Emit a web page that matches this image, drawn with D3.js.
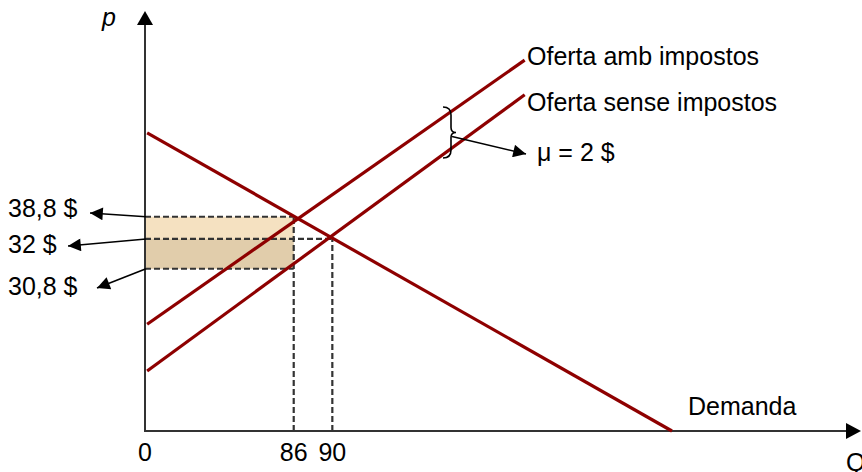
<!DOCTYPE html>
<html>
<head>
<meta charset="utf-8">
<script src="https://cdn.jsdelivr.net/npm/d3@7"></script>
<style>
  body { margin: 0; background: #fff; }
  text { font-family: "Liberation Sans", Arial, sans-serif; fill: #000; font-size: 25px; }
</style>
</head>
<body>
<div id="chart"></div>
<script>
// schematic diagram, values in abstract diagram units (q: 0-100, p: 0-60)
var demand      = [[0.3, 43.0], [73.7, 0]];
var supplyTax   = [[0.3, 15.4], [53.1, 53.5]];
var supplyNoTax = [[0.3, 8.65], [53.1, 48.5]];

var lineNames = ["Demanda", "Oferta amb impostos", "Oferta sense impostos"];

// equilibrium points (q, p)
var eqTax   = [20.8, 30.9];
var eqNoTax = [26.2, 27.7];
var pLow    = 23.4;

var qTickLabels = ["0", "86", "90"];
var qTickPos    = [0, 20.8, 26.2];

var pLabels = ["38,8 $", "32 $", "30,8 $"];
var pPos    = [30.9, 27.7, 23.4];

var taxLabel = "\u03bc = 2 $";

var width = 862, height = 472;
var lineColor = "#8e0000";

var x = d3.scaleLinear().domain([0, 100]).range([145, 860]);
var y = d3.scaleLinear().domain([0, 60]).range([431, 15]);

var svg = d3.select("#chart").append("svg")
  .attr("width", width)
  .attr("height", height);

var defs = svg.append("defs");
defs.append("marker")
  .attr("id", "head")
  .attr("viewBox", "0 0 10 10")
  .attr("refX", 10).attr("refY", 5)
  .attr("markerWidth", 9).attr("markerHeight", 8)
  .attr("markerUnits", "strokeWidth")
  .attr("orient", "auto")
  .append("path")
  .attr("d", "M0,0L10,5L0,10Z")
  .attr("fill", "#000");

// shaded tax areas
svg.append("rect")
  .attr("x", x(0)).attr("y", y(eqTax[1]))
  .attr("width", x(eqTax[0]) - x(0))
  .attr("height", y(eqNoTax[1]) - y(eqTax[1]))
  .attr("fill", "#f5e1c1");
svg.append("rect")
  .attr("x", x(0)).attr("y", y(eqNoTax[1]))
  .attr("width", x(eqTax[0]) - x(0))
  .attr("height", y(pLow) - y(eqNoTax[1]))
  .attr("fill", "#e1cdab");

// dashed guides
var guides = [
  [[0, eqTax[1]], eqTax],
  [[0, eqNoTax[1]], eqNoTax],
  [[0, pLow], [eqTax[0], pLow]],
  [[eqTax[0], 0], eqTax],
  [[eqNoTax[0], 0], eqNoTax]
];
svg.selectAll(".guide")
  .data(guides)
  .enter().append("line")
  .attr("class", "guide")
  .attr("x1", function(d) { return x(d[0][0]); })
  .attr("y1", function(d) { return y(d[0][1]); })
  .attr("x2", function(d) { return x(d[1][0]); })
  .attr("y2", function(d) { return y(d[1][1]); })
  .attr("stroke", "#333")
  .attr("stroke-width", 2.2)
  .attr("stroke-dasharray", "6,3");

// axes
svg.append("line")
  .attr("x1", x(0)).attr("y1", y(0))
  .attr("x2", x(0)).attr("y2", 25)
  .attr("stroke", "#333").attr("stroke-width", 2);
svg.append("path")
  .attr("d", "M" + (x(0) - 8) + ",25L" + x(0) + ",11L" + (x(0) + 8) + ",25Z")
  .attr("fill", "#000");
svg.append("line")
  .attr("x1", x(0) - 1).attr("y1", y(0))
  .attr("x2", 847).attr("y2", y(0))
  .attr("stroke", "#333").attr("stroke-width", 2);
svg.append("path")
  .attr("d", "M846," + (y(0) - 8) + "L861," + y(0) + "L846," + (y(0) + 8) + "Z")
  .attr("fill", "#000");

// demand and supply lines
var lineGen = d3.line()
  .x(function(d) { return x(d[0]); })
  .y(function(d) { return y(d[1]); });

svg.selectAll(".curve")
  .data([demand, supplyTax, supplyNoTax])
  .enter().append("path")
  .attr("class", "curve")
  .attr("d", lineGen)
  .attr("fill", "none")
  .attr("stroke", lineColor)
  .attr("stroke-width", 3.2);

// line labels
svg.append("text").attr("x", 688).attr("y", 415).text(lineNames[0]);
svg.append("text").attr("x", 527).attr("y", 65).text(lineNames[1]);
svg.append("text").attr("x", 527).attr("y", 111).text(lineNames[2]);

// axis titles
svg.append("text").attr("x", 102).attr("y", 26)
  .style("font-style", "italic").text("p");
svg.append("text").attr("x", 846).attr("y", 471).text("Q");

// quantity tick labels
svg.selectAll(".qlab")
  .data(qTickLabels)
  .enter().append("text")
  .attr("class", "qlab")
  .attr("x", function(d, i) { return x(qTickPos[i]); })
  .attr("y", 461)
  .attr("text-anchor", "middle")
  .text(function(d) { return d; });

// price labels with arrows
var labelY = [217, 253, 295];
var tipX = [90, 68, 97];
var tipY = [213, 246, 288];
svg.selectAll(".plab")
  .data(pLabels)
  .enter().append("text")
  .attr("class", "plab")
  .attr("x", 8)
  .attr("y", function(d, i) { return labelY[i]; })
  .text(function(d) { return d; });

svg.selectAll(".parrow")
  .data(pPos)
  .enter().append("line")
  .attr("class", "parrow")
  .attr("x1", x(0) + 1)
  .attr("y1", function(d) { return y(d); })
  .attr("x2", function(d, i) { return tipX[i]; })
  .attr("y2", function(d, i) { return tipY[i]; })
  .attr("stroke", "#000")
  .attr("stroke-width", 1.6)
  .attr("marker-end", "url(#head)");

// tax brace between the two supply lines
var bx = 446, bTop = 107, bBot = 158, bMid = (bTop + bBot) / 2;
svg.append("path")
  .attr("d", "M" + (bx - 3) + "," + bTop +
    " Q" + (bx + 5) + "," + bTop + " " + (bx + 5) + "," + (bTop + 8) +
    " L" + (bx + 5) + "," + (bMid - 5) +
    " Q" + (bx + 5) + "," + bMid + " " + (bx + 10) + "," + bMid +
    " Q" + (bx + 5) + "," + bMid + " " + (bx + 5) + "," + (bMid + 5) +
    " L" + (bx + 5) + "," + (bBot - 8) +
    " Q" + (bx + 5) + "," + bBot + " " + (bx - 3) + "," + bBot)
  .attr("fill", "none")
  .attr("stroke", "#000")
  .attr("stroke-width", 1.6);

svg.append("line")
  .attr("x1", bx + 6).attr("y1", bMid + 4)
  .attr("x2", 526).attr("y2", 154)
  .attr("stroke", "#000")
  .attr("stroke-width", 1.6)
  .attr("marker-end", "url(#head)");

svg.append("text").attr("x", 537).attr("y", 161).text(taxLabel);
</script>
</body>
</html>
